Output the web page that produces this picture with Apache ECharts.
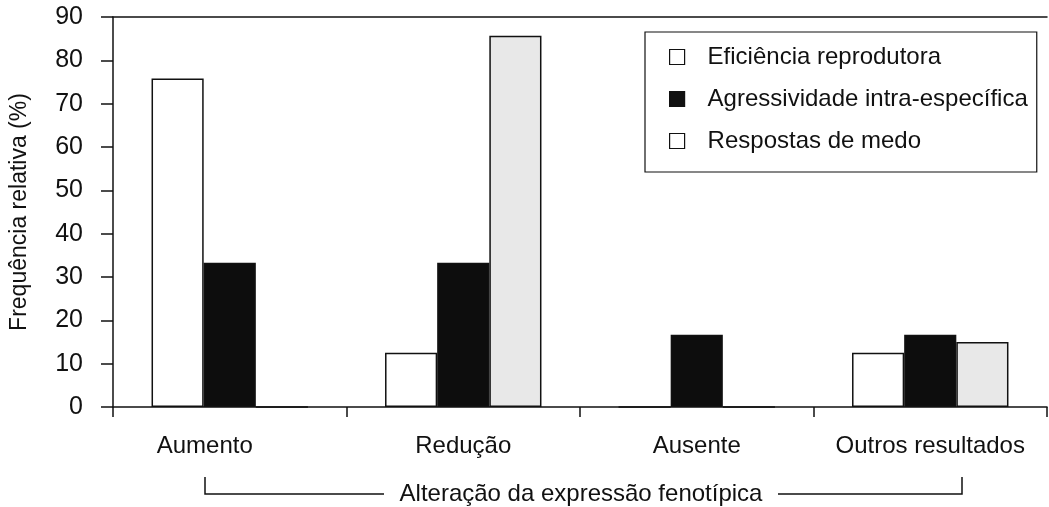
<!DOCTYPE html>
<html>
<head>
<meta charset="utf-8">
<script src="https://cdn.jsdelivr.net/npm/echarts@6/dist/echarts.min.js"></script>
<style>
html,body{margin:0;padding:0;background:#fff;}
#c{width:1049px;height:507px;}
</style>
</head>
<body>
<div id="c"></div>
<script>
const categories = ['Aumento', 'Redução', 'Ausente', 'Outros resultados'];
const seriesNames = ['Eficiência reprodutora', 'Agressividade intra-específica', 'Respostas de medo'];
const eficiencia = [75.8, 12.5, 0, 12.5];
const agressividade = [33.3, 33.3, 16.7, 16.7];
const medo = [0, 85.7, 0, 15];
const yTicks = [0, 10, 20, 30, 40, 50, 60, 70, 80, 90];
const groupLabel = 'Alteração da expressão fenotípica';
const yName = 'Frequência relativa (%)';

const FONT = '"Liberation Sans", Arial, sans-serif';
const chart = echarts.init(document.getElementById('c'), null, {renderer: 'canvas'});

const option = {
  backgroundColor: '#fff',
  animation: false,
  textStyle: {fontFamily: FONT, color: '#111'},
  grid: {left: 112, top: 17, width: 935, height: 390, containLabel: false},
  legend: {
    orient: 'vertical',
    left: 645,
    top: 32,
    padding: [13, 9, 19, 24],
    itemGap: 18,
    itemWidth: 15,
    itemHeight: 15,
    borderColor: '#111',
    borderWidth: 1.2,
    icon: 'rect',
    textStyle: {fontFamily: FONT, fontSize: 24, color: '#111', lineHeight: 24, padding: [0, 0, 0, 18]},
    data: [
      {name: seriesNames[0], itemStyle: {color: '#fff', borderColor: '#111', borderWidth: 1.2}},
      {name: seriesNames[1], itemStyle: {color: '#111', borderColor: '#111', borderWidth: 1.2}},
      {name: seriesNames[2], itemStyle: {color: '#fff', borderColor: '#111', borderWidth: 1.2}}
    ]
  },
  xAxis: [{
    type: 'category',
    data: categories,
    position: 'bottom',
    axisLine: {lineStyle: {color: '#111', width: 1.5}},
    axisTick: {show: true, length: 10, lineStyle: {color: '#111', width: 1.5}},
    axisLabel: {
      interval: 0,
      fontFamily: FONT, fontSize: 24, color: '#111', margin: 27,
      formatter: (v, i) => i === 0 ? '{a|' + v + '}' : v,
      rich: {a: {fontFamily: FONT, fontSize: 24, color: '#111', padding: [0, 50, 0, 0]}}
    }
  }, {
    type: 'category',
    data: categories,
    position: 'top',
    axisLine: {show: true, lineStyle: {color: '#111', width: 1.5}},
    axisTick: {show: false},
    axisLabel: {show: false}
  }],
  yAxis: {
    type: 'value',
    min: yTicks[0],
    max: yTicks[yTicks.length - 1],
    interval: 10,
    name: yName,
    nameLocation: 'middle',
    nameGap: 82,
    nameTextStyle: {fontFamily: FONT, fontSize: 23, color: '#111'},
    axisLine: {show: true, lineStyle: {color: '#111', width: 1.5}},
    axisTick: {show: true, length: 12, lineStyle: {color: '#111', width: 1.5}},
    axisLabel: {fontFamily: FONT, fontSize: 25, color: '#111', margin: 30},
    splitLine: {show: false}
  },
  series: [
    {name: seriesNames[0], type: 'bar', data: eficiencia, barGap: '0%', barCategoryGap: '33%',
     itemStyle: {color: '#fff', borderColor: '#111', borderWidth: 1.5}},
    {name: seriesNames[1], type: 'bar', data: agressividade, barGap: '0%', barCategoryGap: '33%',
     itemStyle: {color: '#0d0d0d', borderColor: '#111', borderWidth: 1.5}},
    {name: seriesNames[2], type: 'bar', data: medo, barGap: '0%', barCategoryGap: '33%',
     itemStyle: {color: '#e8e8e8', borderColor: '#111', borderWidth: 1.5}}
  ],
  graphic: [
    {type: 'polyline', shape: {points: [[205, 477], [205, 494], [384, 494]]}, style: {stroke: '#111', lineWidth: 1.5, fill: null}},
    {type: 'polyline', shape: {points: [[778, 494], [962, 494], [962, 477]]}, style: {stroke: '#111', lineWidth: 1.5, fill: null}},
    {type: 'text', x: 581, y: 494, style: {text: groupLabel, font: '24px ' + FONT, fill: '#111', textAlign: 'center', textVerticalAlign: 'middle'}}
  ]
};
chart.setOption(option);
</script>
</body>
</html>
